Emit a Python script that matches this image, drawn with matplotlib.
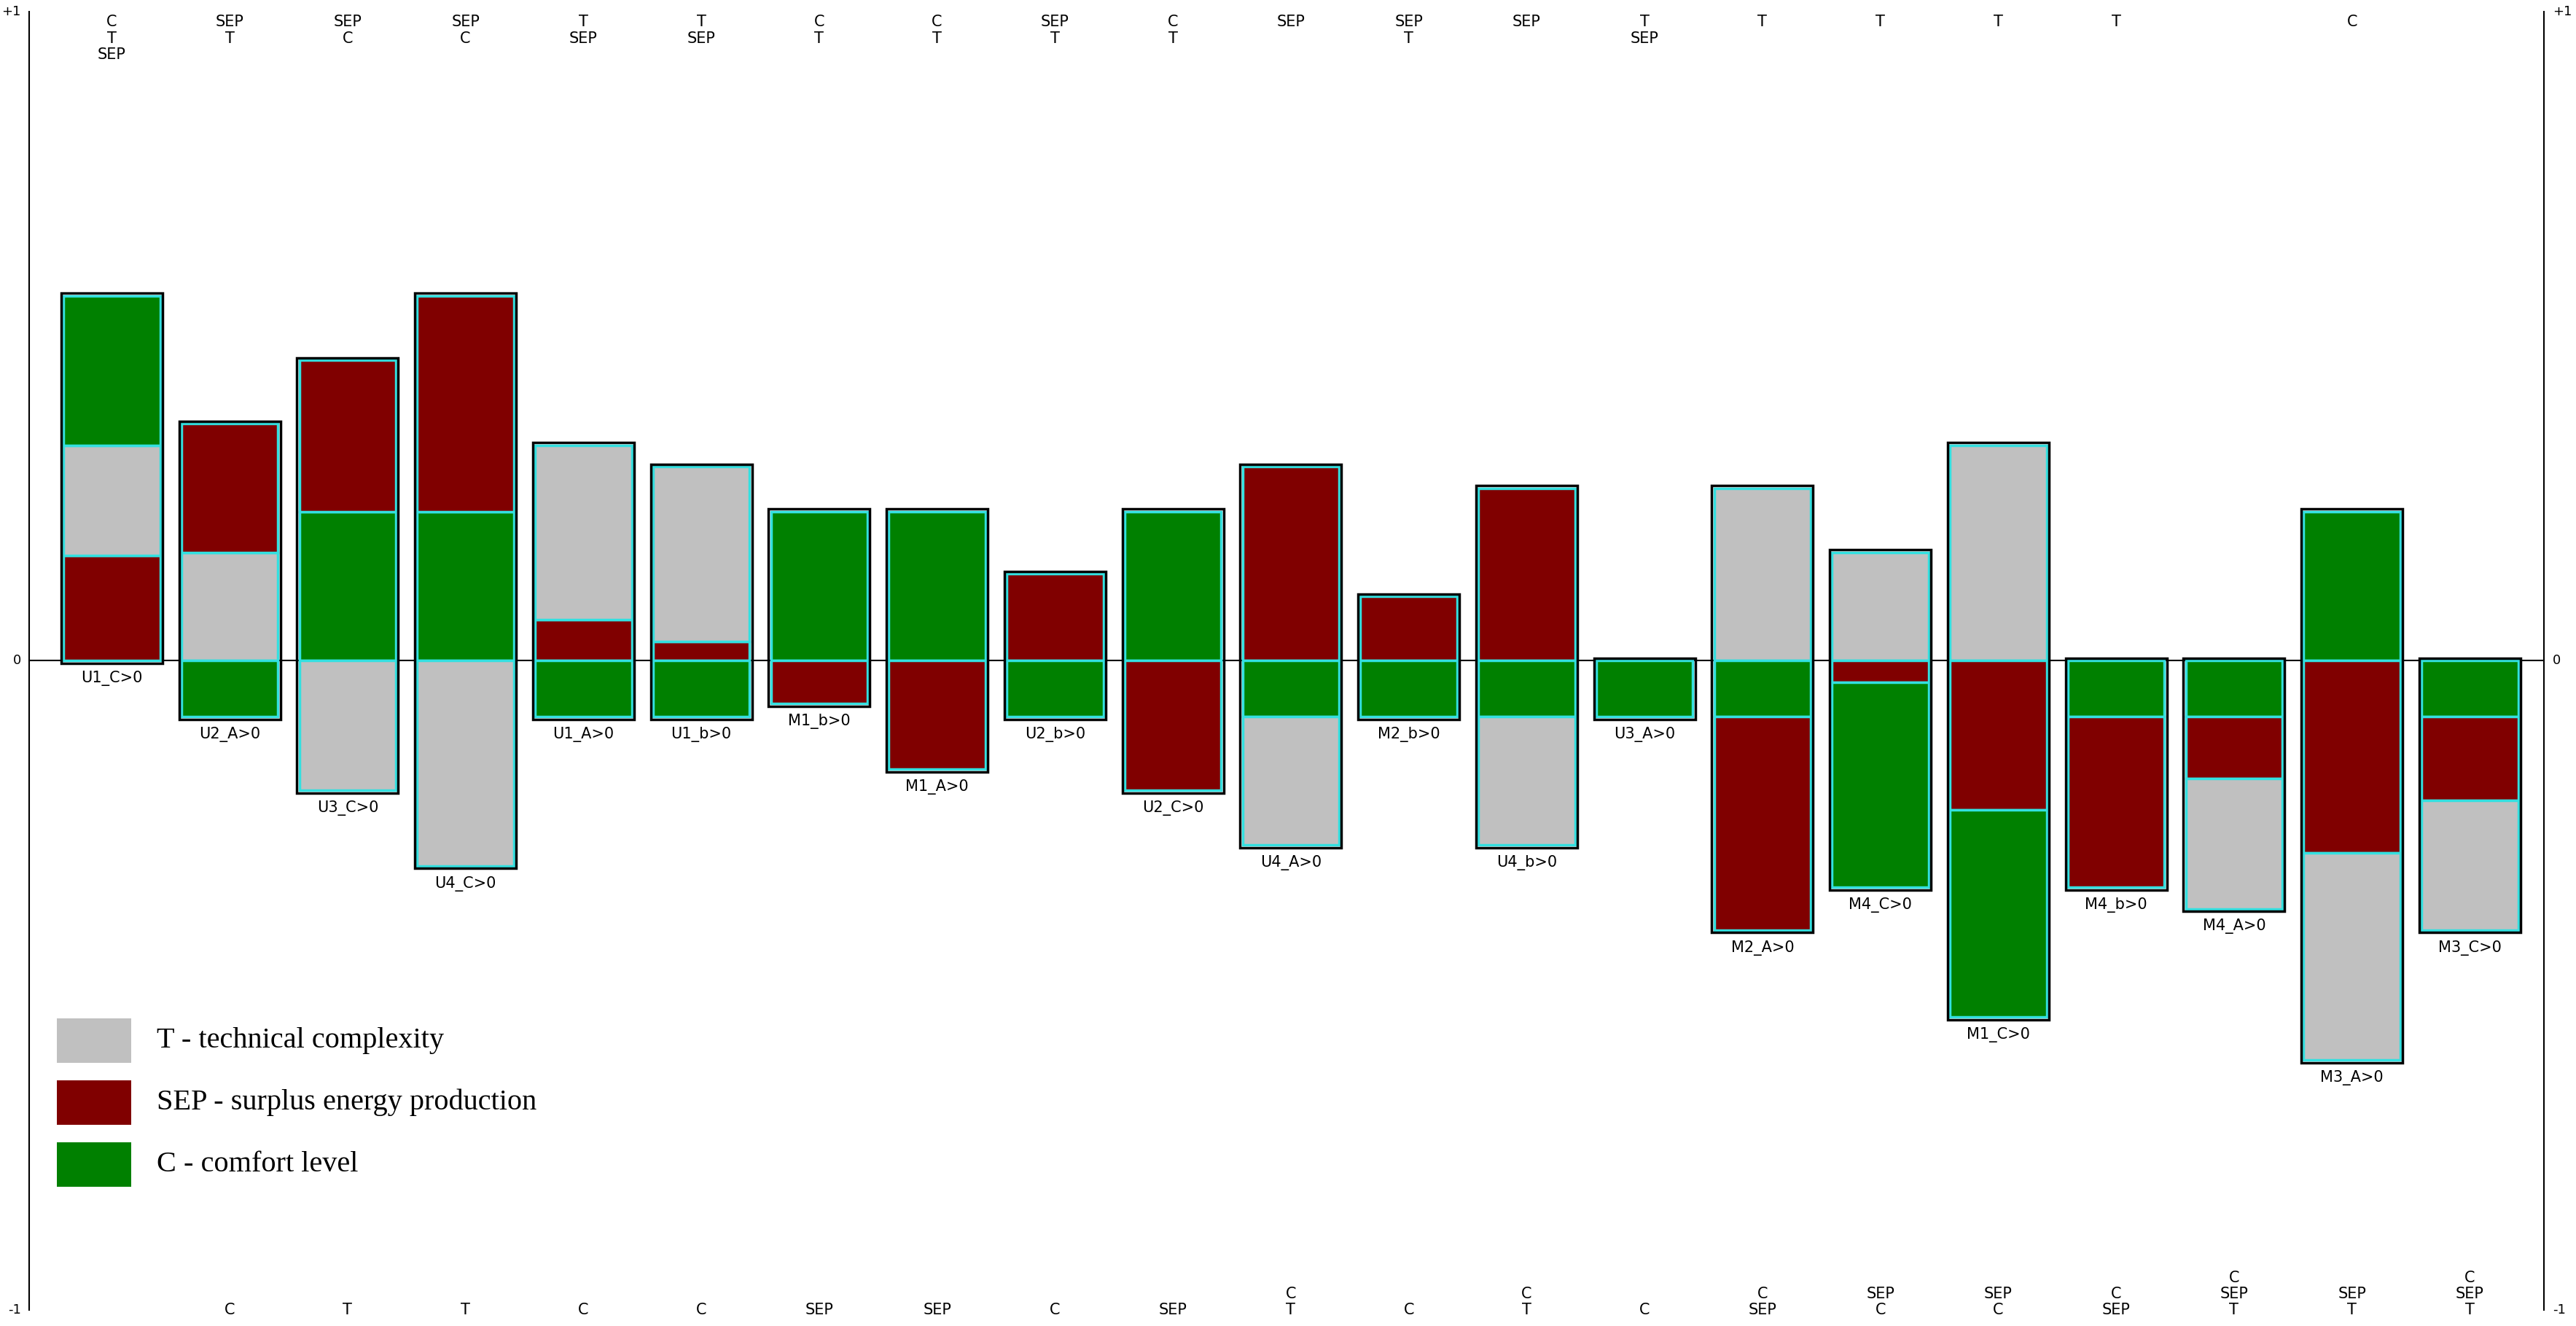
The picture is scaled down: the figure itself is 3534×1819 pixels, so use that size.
import matplotlib.pyplot as plt
from matplotlib.patches import Rectangle

# actions, left to right
actions = ["U1_C>0", "U2_A>0", "U3_C>0", "U4_C>0", "U1_A>0", "U1_b>0", "M1_b>0",
           "M1_A>0", "U2_b>0", "U2_C>0", "U4_A>0", "M2_b>0", "U4_b>0", "U3_A>0",
           "M2_A>0", "M4_C>0", "M1_C>0", "M4_b>0", "M4_A>0", "M3_A>0", "M3_C>0"]

# positive segments, stacked from 0 upward (criterion, height)
pos_parts = [
    [("SEP", 0.162), ("T", 0.170), ("C", 0.230)],
    [("T", 0.167), ("SEP", 0.198)],
    [("C", 0.230), ("SEP", 0.233)],
    [("C", 0.230), ("SEP", 0.332)],
    [("SEP", 0.063), ("T", 0.269)],
    [("SEP", 0.030), ("T", 0.269)],
    [("C", 0.230)],
    [("C", 0.230)],
    [("SEP", 0.134)],
    [("C", 0.230)],
    [("SEP", 0.299)],
    [("SEP", 0.099)],
    [("SEP", 0.266)],
    [],
    [("T", 0.266)],
    [("T", 0.167)],
    [("T", 0.332)],
    [],
    [],
    [("C", 0.230)],
    [],
]

# negative segments, stacked from 0 downward
neg_parts = [
    [],
    [("C", 0.086)],
    [("T", 0.200)],
    [("T", 0.316)],
    [("C", 0.086)],
    [("C", 0.086)],
    [("SEP", 0.066)],
    [("SEP", 0.167)],
    [("C", 0.086)],
    [("SEP", 0.200)],
    [("C", 0.086), ("T", 0.198)],
    [("C", 0.086)],
    [("C", 0.086), ("T", 0.198)],
    [("C", 0.086)],
    [("C", 0.086), ("SEP", 0.329)],
    [("SEP", 0.033), ("C", 0.316)],
    [("SEP", 0.230), ("C", 0.319)],
    [("C", 0.086), ("SEP", 0.263)],
    [("C", 0.086), ("SEP", 0.096), ("T", 0.200)],
    [("SEP", 0.296), ("T", 0.319)],
    [("C", 0.086), ("SEP", 0.129), ("T", 0.200)],
]

top_labels = ["C\nT\nSEP", "SEP\nT", "SEP\nC", "SEP\nC", "T\nSEP", "T\nSEP", "C\nT",
              "C\nT", "SEP\nT", "C\nT", "SEP", "SEP\nT", "SEP", "T\nSEP", "T", "T",
              "T", "T", "", "C", ""]
bottom_labels = ["", "C", "T", "T", "C", "C", "SEP", "SEP", "C", "SEP", "C\nT", "C",
                 "C\nT", "C", "C\nSEP", "SEP\nC", "SEP\nC", "C\nSEP", "C\nSEP\nT",
                 "SEP\nT", "C\nSEP\nT"]

colors = {"T": "#c0c0c0", "SEP": "#800000", "C": "#008000"}
legend_names = [("T", "T - technical complexity"),
                ("SEP", "SEP - surplus energy production"),
                ("C", "C - comfort level")]

fig = plt.figure(figsize=(35.34, 18.19), dpi=100)
ax = fig.add_axes([0, 0, 1, 1])
ax.set_xlim(-0.948, 20.9)
ax.set_ylim(-1.025, 1.018)
ax.axis("off")

width = 0.82
# axes lines
ax.plot([-0.70, -0.70], [-1, 1], color="black", lw=1.5)
ax.plot([20.63, 20.63], [-1, 1], color="black", lw=1.5)
ax.plot([-0.70, 20.63], [0, 0], color="black", lw=1.5)
for y, s in [(1, "+1"), (0, "0"), (-1, "-1")]:
    ax.text(-0.77, y, s, ha="right", va="center", fontsize=13)
    ax.text(20.70, y, s, ha="left", va="center", fontsize=13)

for i, name in enumerate(actions):
    x0 = i - width / 2
    y = 0
    for crit, h in pos_parts[i]:
        ax.add_patch(Rectangle((x0, y), width, h, facecolor=colors[crit],
                               edgecolor="#33e0e0", lw=2.5, zorder=3))
        y += h
    top = y
    y = 0
    for crit, h in neg_parts[i]:
        ax.add_patch(Rectangle((x0, y - h), width, h, facecolor=colors[crit],
                               edgecolor="#33e0e0", lw=2.5, zorder=3))
        y -= h
    bottom = y
    if top > bottom:
        ax.add_patch(Rectangle((x0 - 0.02, bottom - 0.004), width + 0.04,
                               top - bottom + 0.008, facecolor="none",
                               edgecolor="black", lw=2.5, zorder=4))
    ax.annotate(name, (i, bottom), xytext=(0, -10), textcoords="offset points",
                ha="center", va="top", fontsize=15)
    ax.text(i, 0.995, top_labels[i], ha="center", va="top", fontsize=15,
            linespacing=1.15)
    ax.text(i, -1.012, bottom_labels[i], ha="center", va="bottom", fontsize=15,
            linespacing=1.15)

# legend
for k, (crit, label) in enumerate(legend_names):
    yc = -0.585 - k * 0.0955
    ax.add_patch(Rectangle((-0.465, yc - 0.034), 0.63, 0.068,
                           facecolor=colors[crit], edgecolor="none", zorder=3))
    ax.text(0.38, yc, label, ha="left", va="center", fontsize=29,
            family="Liberation Serif")

fig.savefig("out.png", dpi=100)
